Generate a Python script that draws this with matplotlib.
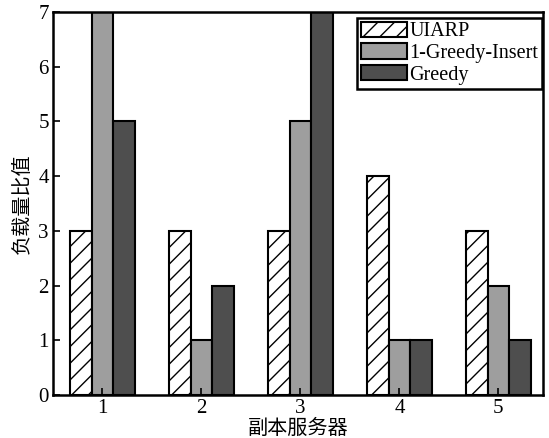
import matplotlib
matplotlib.use("Agg")
import matplotlib.pyplot as plt
import numpy as np

plt.rcParams['font.family'] = ['Liberation Serif', 'Noto Sans CJK SC']
plt.rcParams['hatch.linewidth'] = 1.0

servers = ['1', '2', '3', '4', '5']
series_names = ['UIARP', '1-Greedy-Insert', 'Greedy']
uiarp = [3, 3, 3, 4, 3]
greedy_insert = [7, 1, 5, 1, 2]
greedy = [5, 2, 7, 1, 1]
y_ticks = [0, 1, 2, 3, 4, 5, 6, 7]

fig = plt.figure(figsize=(5.49, 4.38), dpi=100)
ax = fig.add_axes([0.0965, 0.098, 0.8925, 0.875])

x = np.arange(1, len(servers) + 1)
w = 0.22
ax.bar(x - w, uiarp, w, facecolor='white', edgecolor='black', hatch='//', linewidth=1.5, label=series_names[0])
ax.bar(x, greedy_insert, w, facecolor='#9e9e9e', edgecolor='black', linewidth=1.5, label=series_names[1])
ax.bar(x + w, greedy, w, facecolor='#4e4e4e', edgecolor='black', linewidth=1.5, label=series_names[2])

ax.set_xlim(0.5, 5.45)
ax.set_ylim(0, 7)
ax.set_xticks(x)
ax.set_xticklabels(servers)
ax.set_yticks(y_ticks)
ax.tick_params(direction='in', labelsize=15, length=5, width=1.2)
ax.tick_params(axis='x', pad=3)
ax.tick_params(axis='y', pad=3)
for s in ax.spines.values():
    s.set_linewidth(1.8)

ax.set_xlabel('副本服务器', fontsize=14.5, family=['Noto Sans CJK SC'], labelpad=0)
ax.set_ylabel('负载量比值', fontsize=14.5, family=['Noto Sans CJK SC'], labelpad=4)

leg = ax.legend(loc='upper right', bbox_to_anchor=(0.998, 0.985), fontsize=14.5, frameon=True,
                fancybox=False, edgecolor='black', handlelength=2.3, handleheight=0.8,
                handletextpad=0.1, labelspacing=0.1, borderpad=0.2, borderaxespad=0.0)
leg.get_frame().set_linewidth(1.8)
leg.get_frame().set_alpha(1)

fig.savefig('out.png', dpi=100)
